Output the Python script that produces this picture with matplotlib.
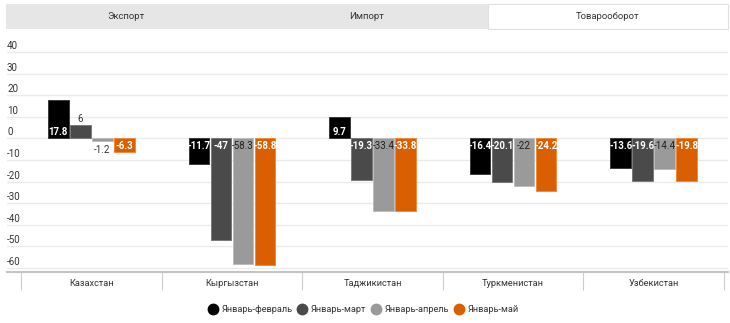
import matplotlib
matplotlib.use("Agg")
import matplotlib.pyplot as plt
from matplotlib.patches import Rectangle
from matplotlib.lines import Line2D

plt.rcParams['font.family'] = ['Roboto', 'DejaVu Sans']

# Data
countries = ["Казахстан", "Кыргызстан", "Таджикистан", "Туркменистан", "Узбекистан"]
periods = ["Январь-февраль", "Январь-март", "Январь-апрель", "Январь-май"]
jan_feb = [17.8, -11.7, 9.7, -16.4, -13.6]
jan_mar = [6, -47, -19.3, -20.1, -19.6]
jan_apr = [-1.2, -58.3, -33.4, -22, -14.4]
jan_may = [-6.3, -58.8, -33.8, -24.2, -19.8]
series = [jan_feb, jan_mar, jan_apr, jan_may]
tabs = ["Экспорт", "Импорт", "Товарооборот"]
yticks = [40, 30, 20, 10, 0, -10, -20, -30, -40, -50, -60]

colors = ["#000000", "#4a4a4a", "#9a9a9a", "#d95f00"]
edge_colors = ["#3a3a3a", "#7a7a7a", "#bdbdbd", "#f08a40"]
label_colors = ["white", "white", "#222222", "white"]
label_weights = ["bold", "bold", "normal", "bold"]

W, H = 730, 323
fig = plt.figure(figsize=(W / 100, H / 100), dpi=100)

def fx(px):
    return px / W

def fy(py):
    return 1 - py / H

# Tab strip
fig.patches.append(Rectangle((fx(6), fy(29)), fx(722), 25 / H, transform=fig.transFigure,
                             facecolor="#e6e6e6", edgecolor="none", zorder=0))
fig.patches.append(Rectangle((fx(488), fy(29)), fx(240), 25 / H, transform=fig.transFigure,
                             facecolor="white", edgecolor="#e0e0e0", linewidth=0.8, zorder=1))
tab_w = 722 / 3
for i, t in enumerate(tabs):
    fig.text(fx(6 + tab_w * (i + 0.5)), fy(16.5), t, ha="center", va="center",
             fontsize=6.8, color="#333333")

# Plot area
ax_left, ax_right, ax_top, ax_bottom = 7, 728, 45, 272
ax = fig.add_axes([fx(ax_left), fy(ax_bottom), (ax_right - ax_left) / W, (ax_bottom - ax_top) / H])
cat_w = (724 - 21) / 5
ax.set_xlim(-0.5 - (21 - ax_left) / cat_w, 4.5 + (ax_right - 724) / cat_w)
ax.set_ylim(-61.85, 43.2)

slot = 22 / cat_w
bar_w = 20.5 / cat_w
px_per_unit = (ax_bottom - ax_top) / (43.2 + 61.85)

for si, vals in enumerate(series):
    xs = [ci + (si - 1.5) * slot for ci in range(len(countries))]
    ax.bar(xs, vals, width=bar_w, color=colors[si], edgecolor=edge_colors[si],
           linewidth=0.7, zorder=3, label=periods[si])
    for x, v in zip(xs, vals):
        txt = f"{v:g}"
        inside = abs(v) * px_per_unit > 13.3
        if inside:
            off = 6 if v > 0 else -8
            ax.annotate(txt, (x, 0), xytext=(0, off), textcoords="offset pixels",
                        ha="center", va="center", fontsize=7, color=label_colors[si],
                        fontweight=label_weights[si], zorder=5)
        else:
            off = 6 if v > 0 else -9
            ax.annotate(txt, (x, v), xytext=(0, off), textcoords="offset pixels",
                        ha="center", va="center", fontsize=7, color="#333333", zorder=5)

# Grid and y labels drawn inside the plot area
for t in yticks:
    ax.axhline(t, color="#ebebeb", linewidth=1, zorder=1)
    ax.annotate(f"{t}", (0, t), xycoords=("axes fraction", "data"), xytext=(0, 6),
                textcoords="offset pixels", ha="left", va="center", fontsize=7, color="#333333")
ax.set_yticks([])

for s in ["top", "left", "right"]:
    ax.spines[s].set_visible(False)
ax.spines["bottom"].set_color("#c4c4c4")
ax.spines["bottom"].set_linewidth(1.5)

ax.set_xticks(range(len(countries)))
ax.set_xticklabels(countries, fontsize=6.7, color="#333333")
ax.tick_params(axis="x", which="major", length=0, pad=5)
ax.set_xticks([i - 0.5 for i in range(len(countries) + 1)], minor=True)
ax.tick_params(axis="x", which="minor", length=13, width=0.8, color="#cccccc")

# Legend
handles = [Line2D([0], [0], marker="o", linestyle="none", markersize=7.5,
                  markerfacecolor=c, markeredgecolor=c) for c in colors]
fig.legend(handles, periods, loc="center", bbox_to_anchor=(fx(363), fy(310)), ncol=4,
           frameon=False, fontsize=6.6, handletextpad=0.3, columnspacing=0.5,
           handlelength=1.2, labelcolor="#333333")

fig.savefig("out.png", dpi=100)
